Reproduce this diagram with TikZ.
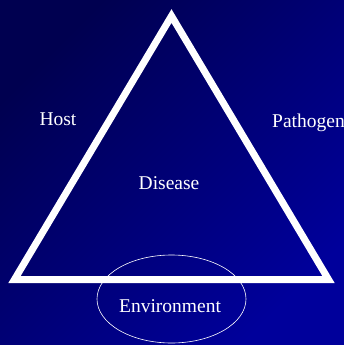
\documentclass[tikz,border=0pt]{standalone}
\usepackage{fontspec}
\setmainfont{Liberation Serif}
\usetikzlibrary{shapes.geometric}
\begin{document}
\begin{tikzpicture}[x=1pt,y=-1pt,
  lbl/.style={text=white,font=\fontsize{19.5}{22}\selectfont,inner sep=0pt},
  edge/.style={draw=white,line width=7pt,line join=miter}]
\useasboundingbox (0,0) rectangle (344,345);
\shade[left color={rgb,255:red,0;green,0;blue,80},right color={rgb,255:red,0;green,0;blue,155},shading angle=45] (0,0) rectangle (344,345);
\coordinate (A) at (171.5,16);
\coordinate (B) at (14.5,279.5);
\coordinate (C) at (328.5,279.5);
\path[edge] (A) -- (B) -- (C) -- cycle;
\node[draw=white,line width=0.6pt,ellipse,minimum width=149pt,minimum height=88pt,inner sep=0pt] (env) at (171.5,299) {};
\node[lbl] (host) at (58,119) {Host};
\node[lbl,anchor=west] (path) at (272,123) {Pathogen};
\node[lbl] (dis) at (169,183) {Disease};
\node[lbl] (envt) at (170,306) {Environment};
\end{tikzpicture}
\end{document}
